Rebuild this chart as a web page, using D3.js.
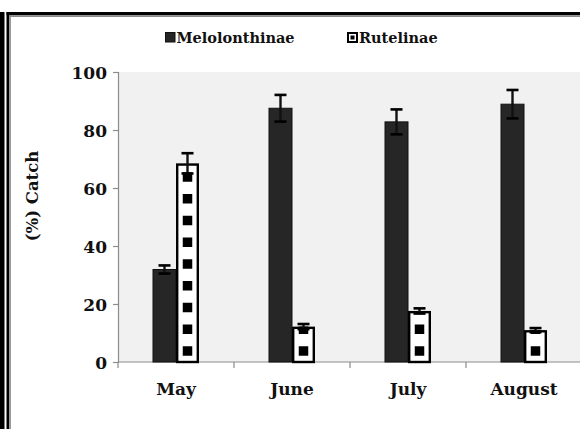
<!DOCTYPE html>
<html>
<head>
<meta charset="utf-8">
<script src="https://cdn.jsdelivr.net/npm/d3@7"></script>
<style>
  html, body { margin: 0; padding: 0; background: #fff; }
  svg { display: block; }
  text { font-family: "DejaVu Serif", "Liberation Serif", serif; fill: #111; }
</style>
</head>
<body>
<svg id="chart" width="580" height="429"></svg>
<script>
// Monthly catch share of the two scarab subfamilies (%), with error margins
const months = ["May", "June", "July", "August"];
const seriesNames = ["Melolonthinae", "Rutelinae"];
const melolonthinae = [31.9, 87.5, 82.8, 88.9];
const melolonthinaeErr = [1.4, 4.6, 4.3, 4.9];
const rutelinae = [68.5, 12.2, 17.6, 11.0];
const rutelinaeErr = [3.5, 0.9, 0.9, 0.7];
const yTicks = [0, 20, 40, 60, 80, 100];

const svg = d3.select("#chart");
const W = 580, H = 429;
const plot = { left: 118, right: 582, top: 72, bottom: 362 };

// outer frame (double rule on the left, heavy rule on top)
const frame = svg.append("g");
frame.append("rect").attr("x", 0).attr("y", 12).attr("width", 4.5).attr("height", H - 12).attr("fill", "#000");
frame.append("rect").attr("x", 6.5).attr("y", 12).attr("width", 2.5).attr("height", H - 12).attr("fill", "#000");
frame.append("rect").attr("x", 9).attr("y", 15).attr("width", 2).attr("height", H - 15).attr("fill", "#9a9a9a");
frame.append("rect").attr("x", 6.5).attr("y", 12).attr("width", W).attr("height", 3.2).attr("fill", "#000");
frame.append("rect").attr("x", 9).attr("y", 15.2).attr("width", W).attr("height", 1.8).attr("fill", "#8a8a8a");

// scales
const x = d3.scaleBand().domain(months).range([plot.left, plot.right]).paddingInner(0).paddingOuter(0);
const barW = 23;
const xs = d3.scaleBand().domain(seriesNames).range([-barW, barW]);
const y = d3.scaleLinear().domain([0, 100]).range([plot.bottom, plot.top]);

// plot background
svg.append("rect")
  .attr("x", plot.left).attr("y", plot.top)
  .attr("width", plot.right - plot.left).attr("height", plot.bottom - plot.top)
  .attr("fill", "#f1f1f1");

// y axis
const yAxis = svg.append("g")
  .attr("transform", `translate(${plot.left},0)`)
  .call(d3.axisLeft(y).tickValues(yTicks).tickSize(5).tickPadding(6).tickFormat(d3.format("d")));
yAxis.select(".domain").attr("stroke", "#8c8c8c").attr("stroke-width", 1.2);
yAxis.selectAll(".tick line").attr("stroke", "#8c8c8c").attr("stroke-width", 1.2);
yAxis.selectAll(".tick text")
  .attr("font-family", "DejaVu Serif").attr("font-size", 17).attr("font-weight", "bold")
  .attr("fill", "#111").attr("dy", "0.36em");

// x axis with ticks at category boundaries
const xAxis = svg.append("g").attr("transform", `translate(0,${plot.bottom})`);
xAxis.append("line")
  .attr("x1", plot.left).attr("x2", plot.right)
  .attr("stroke", "#8c8c8c").attr("stroke-width", 1.2);
const bounds = months.map(m => x(m)).concat([x(months[months.length - 1]) + x.bandwidth()]);
xAxis.selectAll("line.tk").data(bounds).join("line").attr("class", "tk")
  .attr("x1", d => d).attr("x2", d => d).attr("y1", 0).attr("y2", 6)
  .attr("stroke", "#8c8c8c").attr("stroke-width", 1.2);
xAxis.selectAll("text").data(months).join("text")
  .attr("x", d => x(d) + x.bandwidth() / 2).attr("y", 33)
  .attr("text-anchor", "middle").attr("font-size", 17).attr("font-weight", "bold")
  .text(d => d);

// y axis title
svg.append("text")
  .attr("transform", "translate(38,196) rotate(-90)")
  .attr("text-anchor", "middle").attr("font-size", 16.5).attr("font-weight", "bold")
  .text("(%) Catch");

const cx = (m, s) => x(m) + x.bandwidth() / 2 + xs(s);

// Melolonthinae bars
const melData = months.map((m, i) => ({ m, v: melolonthinae[i], e: melolonthinaeErr[i], s: seriesNames[0] }));
const rutData = months.map((m, i) => ({ m, v: rutelinae[i], e: rutelinaeErr[i], s: seriesNames[1] }));

svg.append("g").selectAll("rect").data(melData).join("rect")
  .attr("x", d => cx(d.m, d.s)).attr("y", d => y(d.v))
  .attr("width", xs.bandwidth()).attr("height", d => y(0) - y(d.v))
  .attr("fill", "#262626").attr("stroke", "#111").attr("stroke-width", 1);

// Rutelinae bars: white with a column of black squares, clipped to the bar
const defs = svg.append("defs");
const period = 21.75, sq = 9.5;
defs.selectAll("clipPath").data(rutData).join("clipPath")
  .attr("id", (d, i) => "rclip" + i)
  .append("rect")
  .attr("x", d => cx(d.m, d.s)).attr("y", d => y(d.v))
  .attr("width", xs.bandwidth()).attr("height", d => y(0) - y(d.v));

const rg = svg.append("g");
rutData.forEach((d, i) => {
  const g = rg.append("g");
  g.append("rect")
    .attr("x", cx(d.m, d.s)).attr("y", y(d.v))
    .attr("width", xs.bandwidth()).attr("height", y(0) - y(d.v))
    .attr("fill", "#fff");
  const n = Math.ceil((y(0) - y(d.v)) / period) + 1;
  const centres = d3.range(n).map(k => y(0) - 11 - k * period);
  g.append("g").attr("clip-path", `url(#rclip${i})`)
    .selectAll("rect").data(centres).join("rect")
    .attr("x", cx(d.m, d.s) + xs.bandwidth() / 2 - sq / 2)
    .attr("y", c => c - sq / 2)
    .attr("width", sq).attr("height", sq).attr("fill", "#000");
  g.append("rect")
    .attr("x", cx(d.m, d.s) + 1.2).attr("y", y(d.v) + 1.2)
    .attr("width", xs.bandwidth() - 2.4).attr("height", y(0) - y(d.v) - 1.2)
    .attr("fill", "none").attr("stroke", "#000").attr("stroke-width", 2.4);
});

// error bars
const errG = svg.append("g");
const capW = 12;
[melData, rutData].forEach(data => {
  const g = errG.append("g").selectAll("g").data(data).join("g");
  g.append("line")
    .attr("x1", d => cx(d.m, d.s) + xs.bandwidth() / 2).attr("x2", d => cx(d.m, d.s) + xs.bandwidth() / 2)
    .attr("y1", d => y(d.v + d.e)).attr("y2", d => y(d.v - d.e))
    .attr("stroke", "#111").attr("stroke-width", 2.4);
  ["+", "-"].forEach(sgn => {
    g.append("line")
      .attr("x1", d => cx(d.m, d.s) + xs.bandwidth() / 2 - capW / 2)
      .attr("x2", d => cx(d.m, d.s) + xs.bandwidth() / 2 + capW / 2)
      .attr("y1", d => y(sgn === "+" ? d.v + d.e : d.v - d.e))
      .attr("y2", d => y(sgn === "+" ? d.v + d.e : d.v - d.e))
      .attr("stroke", "#000").attr("stroke-width", 2.6);
  });
});

// legend
const legend = svg.append("g").attr("transform", "translate(0,37)");
const l1 = legend.append("g").attr("transform", "translate(165,0)");
l1.append("rect").attr("x", 0.5).attr("y", -4.5).attr("width", 9.5).attr("height", 9.5)
  .attr("fill", "#262626").attr("stroke", "#111").attr("stroke-width", 1);
l1.append("text").attr("x", 11.5).attr("y", 5.5).attr("font-size", 14.5).attr("font-weight", "bold")
  .text(seriesNames[0]);
const l2 = legend.append("g").attr("transform", "translate(347,0)");
l2.append("rect").attr("x", 1).attr("y", -4).attr("width", 9).attr("height", 9)
  .attr("fill", "#fff").attr("stroke", "#000").attr("stroke-width", 2);
l2.append("rect").attr("x", 3.5).attr("y", -1.5).attr("width", 4).attr("height", 4).attr("fill", "#000");
l2.append("text").attr("x", 12).attr("y", 5.5).attr("font-size", 14.5).attr("font-weight", "bold")
  .text(seriesNames[1]);
</script>
</body>
</html>
